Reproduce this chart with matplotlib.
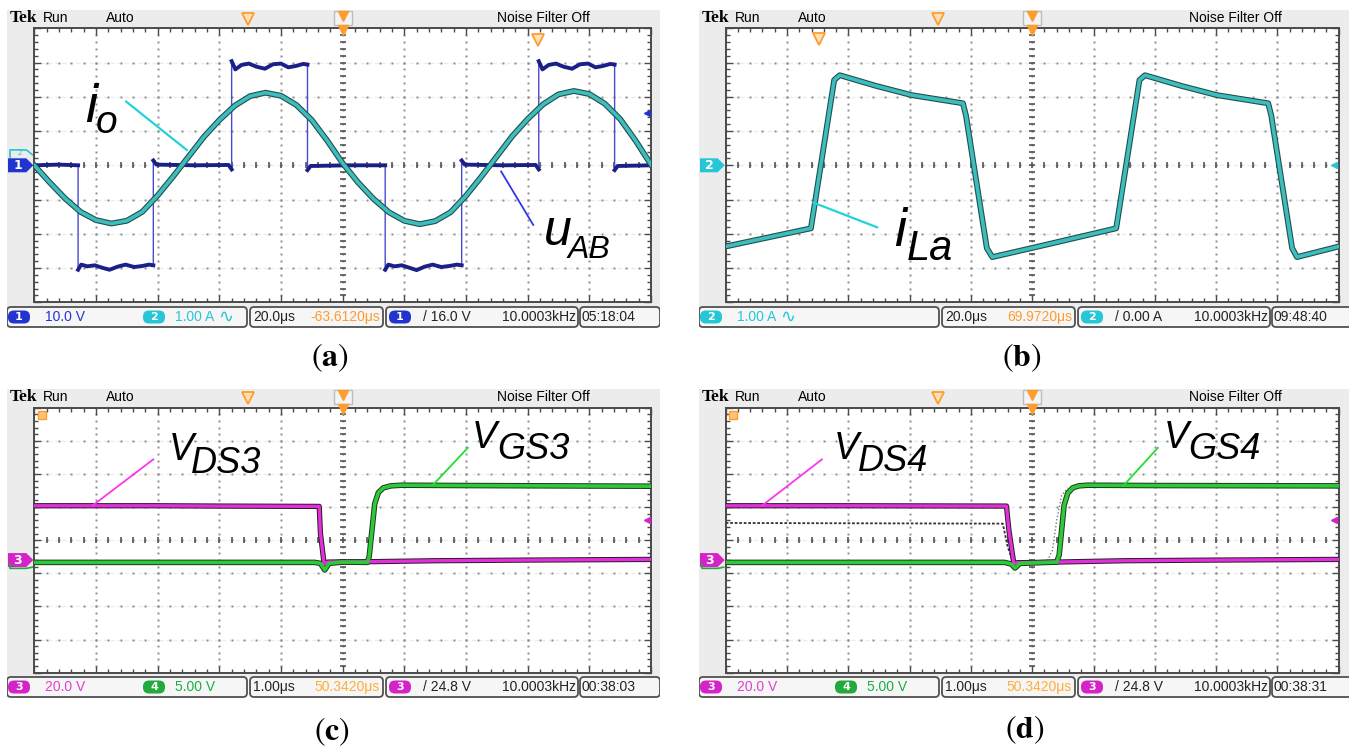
import numpy as np
import matplotlib.pyplot as plt
from matplotlib.patches import Polygon, FancyBboxPatch, Rectangle


# =====================================
# DATA  (screen divisions: x 0..10, y -4..4)
# =====================================

# (a) inverter output voltage u_AB and output current i_o
uab_x = [0.00, 0.40, 0.71, 0.71, 0.76, 0.86, 0.98, 1.10, 1.22, 1.35, 1.48, 1.62, 1.75, 1.86, 1.93,
         1.93, 1.98, 2.60, 3.15, 3.20,
         3.20, 3.26, 3.36, 3.48, 3.60, 3.74, 3.87, 4.00, 4.12, 4.24, 4.36, 4.43,
         4.43, 4.48, 5.10, 5.69,
         5.69, 5.74, 5.84, 5.96, 6.08, 6.20, 6.33, 6.46, 6.60, 6.73, 6.85, 6.93,
         6.93, 6.98, 7.60, 8.13, 8.18,
         8.18, 8.24, 8.34, 8.46, 8.58, 8.72, 8.85, 8.98, 9.10, 9.22, 9.34, 9.41,
         9.41, 9.46, 10.00]
uab_y = [0.00, 0.02, 0.00, -3.05, -2.90, -2.95, -2.92, -2.99, -3.05, -2.96, -2.90, -2.97, -2.94, -2.90, -2.92,
         0.14, 0.02, 0.00, 0.01, -0.12,
         3.04, 2.80, 2.93, 2.97, 2.88, 2.82, 2.95, 2.97, 2.86, 2.90, 2.96, 2.94,
         -0.14, -0.02, 0.00, 0.00,
         -3.05, -2.90, -2.95, -2.92, -2.99, -3.06, -2.96, -2.90, -2.97, -2.94, -2.90, -2.92,
         0.14, 0.02, 0.00, 0.01, -0.12,
         3.04, 2.80, 2.93, 2.97, 2.88, 2.82, 2.95, 2.97, 2.86, 2.90, 2.96, 2.94,
         -0.14, -0.02, 0.00]

io_x = np.arange(0, 10.01, 0.25)
io_y = [0.00, -0.50, -0.97, -1.36, -1.60, -1.70, -1.62, -1.36, -0.88, -0.33, 0.25,
        0.83, 1.32, 1.74, 2.02, 2.12, 2.03, 1.76, 1.32, 0.72, 0.06,
        -0.50, -0.98, -1.37, -1.62, -1.72, -1.63, -1.37, -0.89, -0.33, 0.26,
        0.85, 1.35, 1.78, 2.07, 2.17, 2.08, 1.80, 1.35, 0.72, 0.02]

# (b) inductor current i_La
ila_x = [0.00, 1.39, 1.77, 1.86, 2.45, 3.03, 3.87, 3.92, 4.26, 4.35, 5.20,
         6.37, 6.75, 6.84, 7.43, 8.01, 8.85, 8.90, 9.24, 9.32, 10.00]
ila_y = [-2.37, -1.84, 2.49, 2.63, 2.32, 2.05, 1.81, 1.45, -2.42, -2.68, -2.33,
         -1.84, 2.49, 2.63, 2.32, 2.05, 1.81, 1.45, -2.42, -2.68, -2.37]

# (c) switch S3
vds3_x = [0.00, 2.00, 3.00, 4.62, 4.64, 4.70, 4.76, 5.40, 6.50, 8.00, 10.00]
vds3_y = [1.04, 1.04, 1.03, 1.02, 0.20, -0.72, -0.66, -0.65, -0.62, -0.60, -0.58]
vgs3_x = [0.00, 4.55, 4.64, 4.71, 4.78, 5.00, 5.40, 5.43, 5.52, 5.58, 5.66, 5.78, 5.95, 7.00, 8.50, 10.00]
vgs3_y = [-0.67, -0.67, -0.70, -0.90, -0.70, -0.66, -0.67, -0.50, 1.10, 1.44, 1.58, 1.64, 1.66, 1.65, 1.64, 1.63]

# (d) switch S4
vds4_x = [0.00, 2.00, 4.58, 4.62, 4.70, 4.76, 5.40, 6.50, 8.00, 10.00]
vds4_y = [1.04, 1.04, 1.03, 0.30, -0.70, -0.68, -0.66, -0.62, -0.60, -0.58]
vgs4_x = [0.00, 4.55, 4.66, 4.72, 4.80, 5.40, 5.44, 5.52, 5.58, 5.66, 5.76, 5.90, 7.00, 10.00]
vgs4_y = [-0.67, -0.67, -0.72, -0.84, -0.70, -0.66, -0.45, 1.05, 1.42, 1.58, 1.64, 1.66, 1.65, 1.64]
ref_ds4_x = [0.00, 4.52, 4.60, 4.68]
ref_ds4_y = [0.52, 0.50, -0.20, -0.62]
ref_gs4_x = [5.25, 5.33, 5.40, 5.48, 5.58]
ref_gs4_y = [-0.62, -0.30, 0.60, 1.35, 1.58]


# =====================================
# STYLE
# =====================================

W, H = 1352, 749
NARROW = ['Liberation Sans Narrow', 'Liberation Sans']
ORANGE = '#ff9c2e'
BLUE = '#2234d0'
CYAN = '#26c6d6'
MAGENTA = '#d424c8'
GREEN = '#22aa3c'

fig = plt.figure(figsize=(W / 100, H / 100), dpi=100)
fig.patch.set_facecolor('white')


def frac(x0, y0, x1, y1):
    return [x0 / W, 1 - y1 / H, (x1 - x0) / W, (y1 - y0) / H]


def scope(sx0, sy0, sx1, sy1, g):
    gx0, gy0, gx1, gy1 = g
    bg = fig.add_axes(frac(sx0, sy0, sx1, sy1))
    bg.set_xlim(sx0, sx1)
    bg.set_ylim(sy1, sy0)
    bg.axis('off')
    bg.add_patch(Rectangle((sx0, sy0), sx1 - sx0, sy1 - sy0 - 22, color='#ececec', zorder=0))

    ax = fig.add_axes(frac(gx0, gy0, gx1, gy1))
    ax.set_xlim(0, 10)
    ax.set_ylim(-4, 4)
    ax.set_facecolor('white')
    for s in ax.spines.values():
        s.set_color('#4a4a4a')
        s.set_linewidth(1.4)
    ax.set_xticks(range(11))
    ax.set_yticks(range(-4, 5))
    ax.set_xticks(np.arange(0, 10.01, 0.2), minor=True)
    ax.set_yticks(np.arange(-4, 4.01, 0.2), minor=True)
    ax.tick_params(which='both', direction='in', top=True, right=True,
                   labelbottom=False, labelleft=False, color='#4a4a4a')
    ax.tick_params(which='major', length=5, width=1)
    ax.tick_params(which='minor', length=3, width=1)

    ys = np.arange(-4, 4.01, 0.2)
    xs = np.arange(0, 10.01, 0.2)
    for gy in range(-3, 4):
        ax.axhline(gy, color='#ececec', lw=1.0, ls=(0, (3, 2)), zorder=0.5)
    for gx in range(1, 10):
        ax.plot(np.full(ys.size, gx), ys, ls='none', marker='s', ms=1.4, mew=0, color='#8c8c8c', zorder=1)
    for gy in range(-3, 4):
        ax.plot(xs, np.full(xs.size, gy), ls='none', marker='s', ms=1.4, mew=0, color='#8c8c8c', zorder=1)
    ax.plot(np.full(ys.size, 5), ys, ls='none', marker='_', ms=5, mew=1.2, color='#555555', zorder=1)
    ax.plot(xs, np.zeros(xs.size), ls='none', marker='|', ms=5, mew=1.2, color='#555555', zorder=1)

    # header
    hy = sy0 + 8
    bg.text(sx0 + 3, hy, 'Tek', family='Liberation Serif', weight='bold', size=12.5, va='center')
    bg.text(sx0 + 36, hy, 'Run', family=NARROW, size=10, va='center')
    bg.text(sx0 + 99, hy, 'Auto', family=NARROW, size=10, va='center')
    bg.text(sx0 + 536, hy, 'Noise Filter Off', family=NARROW, size=10, va='center', ha='center')

    # trigger position markers
    px = lambda d: gx0 + d * (gx1 - gx0) / 10
    bg.plot(px(3.46), sy0 + 9, marker='v', ms=8, mfc='#ffe2b8', mec=ORANGE, mew=1.3)
    bg.add_patch(Rectangle((px(5) - 9, sy0 + 1), 18, 14, fc='#f4f4f4', ec='#bdbdbd', lw=1))
    bg.plot(px(5), sy0 + 6, marker='v', ms=7, color=ORANGE)
    ax.plot(5, 3.95, marker='v', ms=7, color=ORANGE, clip_on=False, zorder=6)
    return bg, ax


def status(bg, L, y0, y1, items):
    for a, b in [(0, 240), (243, 376), (379, 571), (573, 653)]:
        bg.add_patch(FancyBboxPatch((L + a, y0), b - a, y1 - y0,
                                    boxstyle='round,pad=0,rounding_size=4',
                                    fc='#f6f6f6', ec='#505050', lw=1.3))
    yc = (y0 + y1) / 2
    for off, kind, txt, col, ha in items:
        if kind == 'pill':
            bg.add_patch(FancyBboxPatch((L + off, yc - 6.5), 22, 13,
                                        boxstyle='round,pad=0,rounding_size=6', fc=col, ec='none'))
            bg.text(L + off + 11, yc, txt, color='white', size=8, ha='center', va='center', weight='bold')
        elif kind == 'wave':
            bg.text(L + off, yc, txt, color=col, size=13, family='DejaVu Sans', ha=ha, va='center')
        else:
            bg.text(L + off, yc, txt, color=col, size=10, family=NARROW, ha=ha, va='center')


def flag(bg, sx0, gx0, yc, col, txt):
    bg.add_patch(Polygon([(sx0 + 1, yc - 7), (gx0 - 8, yc - 7), (gx0 - 1, yc),
                          (gx0 - 8, yc + 7), (sx0 + 1, yc + 7)], closed=True, fc=col, ec='none'))
    bg.text((sx0 + gx0) / 2 - 3, yc, txt, color='white', size=9, ha='center', va='center', weight='bold')


def bracket(bg, sx0, gx0, ya, yb, col):
    bg.plot([sx0 + 3, sx0 + 3, gx0 - 8, gx0 - 2], [ya, yb, yb, (ya + yb) / 2 + 1], color=col, lw=1.2)


def trace(ax, x, y, col, edge, lw=2.5, elw=4.0):
    ax.plot(x, y, color=edge, lw=elw, solid_joinstyle='round', zorder=3)
    ax.plot(x, y, color=col, lw=lw, solid_joinstyle='round', zorder=4)


def label(ax, x, y, main, sub, s1, s2, dx, dy):
    ax.text(x, y, main, fontstyle='italic', family='Liberation Sans', size=s1, va='baseline', zorder=7)
    ax.text(x + dx, y + dy, sub, fontstyle='italic', family='Liberation Sans', size=s2, va='baseline', zorder=7)


def ypix(g, d):
    return g[1] + (4 - d) * (g[3] - g[1]) / 8


# =====================================
# (a)
# =====================================

ga = (34.3, 28.3, 651.0, 302.3)
bg, ax = scope(7, 10, 660, 329, ga)
ux = np.array(uab_x)
uy = np.array(uab_y)
ax.plot(ux, uy, color='#4a4ad0', lw=1.0, zorder=3)
tx, ty = [], []
for i in range(len(ux)):
    if i and ux[i] == ux[i - 1]:
        tx.append(np.nan)
        ty.append(np.nan)
    tx.append(ux[i])
    ty.append(uy[i])
ax.plot(tx, ty, color='#1a2088', lw=2.8, zorder=3)
trace(ax, io_x, io_y, '#3fbdbd', '#1f4f4f', lw=2.6, elw=4.2)
ax.plot([1.49, 2.47], [1.86, 0.45], color='#22d2da', lw=1.6, zorder=6)
ax.plot([7.57, 8.09], [-0.18, -1.74], color='#3535e8', lw=1.3, zorder=6)
label(ax, 0.82, 1.26, 'i', 'o', 39, 28, 0.17, -0.32)
label(ax, 8.26, -2.33, 'u', 'AB', 36, 23, 0.39, -0.38)
ax.plot(8.16, 3.66, marker='v', ms=8, mfc='#ffe2b8', mec=ORANGE, mew=1.3, zorder=6)
ax.plot(9.93, 1.52, marker='<', ms=5, color=BLUE, clip_on=False, zorder=6)
flag(bg, 7, ga[0], ypix(ga, 0), BLUE, '1')
bracket(bg, 7, ga[0], ypix(ga, 0) - 8, ypix(ga, 0.45), CYAN)
bg.text(20, ypix(ga, 0.35), '2', color=CYAN, size=5, ha='center', va='center')
status(bg, 7, 307, 327, [
    (1, 'pill', '1', BLUE, 'left'), (38, 'text', '10.0 V', BLUE, 'left'),
    (136, 'pill', '2', CYAN, 'left'), (168, 'text', '1.00 A', CYAN, 'left'),
    (211, 'wave', '∿', CYAN, 'left'),
    (246, 'text', '20.0μs', '#222222', 'left'), (373, 'text', '-63.6120μs', ORANGE, 'right'),
    (382, 'pill', '1', BLUE, 'left'), (416, 'text', '/ 16.0 V', '#222222', 'left'),
    (569, 'text', '10.0003kHz', '#222222', 'right'), (575, 'text', '05:18:04', '#222222', 'left')])

# =====================================
# (b)
# =====================================

gb = (725.7, 28.3, 1338.7, 302.3)
bg, ax = scope(699, 10, 1349, 329, gb)
trace(ax, ila_x, ila_y, '#3fbdbd', '#1f4f4f', lw=2.6, elw=4.2)
ax.plot([1.43, 2.47], [-1.09, -1.81], color='#22d2da', lw=1.6, zorder=6)
label(ax, 2.75, -2.37, 'i', 'La', 39, 30, 0.2, -0.39)
ax.plot(1.52, 3.7, marker='v', ms=8, mfc='#ffe2b8', mec=ORANGE, mew=1.3, zorder=6)
ax.plot(9.93, 0, marker='<', ms=5, color=CYAN, clip_on=False, zorder=6)
flag(bg, 699, gb[0], ypix(gb, 0), CYAN, '2')
status(bg, 699, 307, 327, [
    (1, 'pill', '2', CYAN, 'left'), (38, 'text', '1.00 A', CYAN, 'left'),
    (81, 'wave', '∿', CYAN, 'left'),
    (246, 'text', '20.0μs', '#222222', 'left'), (373, 'text', '69.9720μs', ORANGE, 'right'),
    (382, 'pill', '2', CYAN, 'left'), (416, 'text', '/ 0.00 A', '#222222', 'left'),
    (569, 'text', '10.0003kHz', '#222222', 'right'), (575, 'text', '09:48:40', '#222222', 'left')])

# =====================================
# (c) and (d)
# =====================================

panels_cd = [
    (7, 660, (34.3, 407.7, 651.0, 672.7), vds3_x, vds3_y, vgs3_x, vgs3_y, '3', '00:38:03',
     [(2.18, 2.42), (7.10, 2.79)], [(0.36, -0.39), (0.40, -0.35)],
     [[1.93, 0.94], [2.44, 1.04]], [[7.03, 6.47], [2.79, 1.68]]),
    (699, 1349, (725.7, 407.7, 1338.7, 672.7), vds4_x, vds4_y, vgs4_x, vgs4_y, '4', '00:38:31',
     [(1.77, 2.44), (7.14, 2.79)], [(0.38, -0.36), (0.40, -0.35)],
     [[1.57, 0.59], [2.44, 1.04]], [[7.05, 6.49], [2.79, 1.65]]),
]
for L, R, g, dx_, dy_, gx_, gy_, n, clock, pos, sub, lead_d, lead_g in panels_cd:
    bg, ax = scope(L, 389, R, 698, g)
    if n == '4':
        ax.plot(ref_ds4_x, ref_ds4_y, color='#3a2a3a', lw=1.3, ls=(0, (1.5, 1)), zorder=2)
        ax.plot(ref_gs4_x, ref_gs4_y, color='#777777', lw=1.0, ls=(0, (1, 1.5)), zorder=2)
    trace(ax, dx_, dy_, '#e030d8', '#2a1a2a', lw=2.4, elw=3.8)
    trace(ax, gx_, gy_, '#2ec83a', '#1a3a1a', lw=2.6, elw=4.0)
    ax.plot(lead_d[0], lead_d[1], color='#ff33ee', lw=1.3, zorder=6)
    ax.plot(lead_g[0], lead_g[1], color='#22dd33', lw=1.3, zorder=6)
    label(ax, pos[0][0], pos[0][1], 'V', 'DS' + n, 27, 26, sub[0][0], sub[0][1])
    label(ax, pos[1][0], pos[1][1], 'V', 'GS' + n, 27, 26, sub[1][0], sub[1][1])
    ax.plot(0.12, 3.78, marker='s', ms=6, mfc='#ffc27a', mec=ORANGE, zorder=6, clip_on=False)
    ax.plot(9.93, 0.62, marker='<', ms=5, color=MAGENTA, clip_on=False, zorder=6)
    flag(bg, L, g[0], ypix(g, -0.6), MAGENTA, '3')
    bracket(bg, L, g[0], ypix(g, -0.6) + 4, ypix(g, -0.85), GREEN)
    status(bg, L, 677, 697, [
        (1, 'pill', '3', MAGENTA, 'left'), (38, 'text', '20.0 V', '#e040d0', 'left'),
        (136, 'pill', '4', GREEN, 'left'), (168, 'text', '5.00 V', '#18b040', 'left'),
        (246, 'text', '1.00μs', '#222222', 'left'), (373, 'text', '50.3420μs', '#ffae3a', 'right'),
        (382, 'pill', '3', MAGENTA, 'left'), (416, 'text', '/ 24.8 V', '#222222', 'left'),
        (569, 'text', '10.0003kHz', '#222222', 'right'), (575, 'text', clock, '#222222', 'left')])

# panel letters
for txt, x, y in [('a', 330, 358), ('b', 1022, 358), ('c', 332, 732), ('d', 1025, 730)]:
    fig.text(x / W, 1 - y / H, r'$(\mathbf{' + txt + '})$', math_fontfamily='stix',
             size=23, ha='center', va='center')

fig.savefig('out.png', dpi=100)
